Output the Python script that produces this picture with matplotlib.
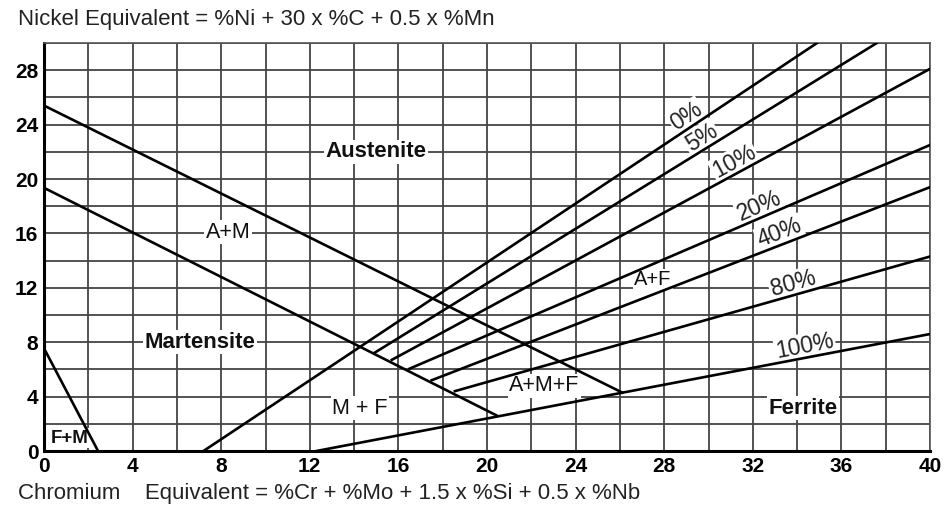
import numpy as np
import matplotlib
matplotlib.use("Agg")
import matplotlib.pyplot as plt

plt.rcParams['font.family'] = ['Liberation Sans', 'DejaVu Sans']

# boundary lines of the Schaeffler diagram, (Cr eq, Ni eq) end points
fm_line = ([0, 2.44], [7.55, 0])
am_upper = ([0, 26.1], [25.4, 4.3])
am_lower = ([0, 20.45], [19.35, 2.6])

# ferrite percentage lines
pct_names = ['0%', '5%', '10%', '20%', '40%', '80%', '100%']
pct_x0 = [7.2, 14.9, 15.7, 16.5, 17.5, 18.55, 12.3]
pct_y0 = [0, 7.2, 6.7, 6.05, 5.2, 4.4, 0]
pct_x1 = [34.9, 37.6, 40, 40, 40, 40, 40]
pct_y1 = [30, 30, 28.1, 22.5, 19.4, 14.3, 8.6]
# where the percentage label sits on its line (x position)
pct_label_x = [29.3, 29.95, 31.4, 32.5, 33.4, 33.95, 34.45]

# phase region labels
regions = ['Austenite', 'A+M', 'Martensite', 'M + F', 'A+M+F', 'A+F', 'Ferrite', 'F+M']
region_x = [15.0, 8.3, 7.04, 14.27, 22.6, 27.5, 34.25, 1.17]
region_y = [22.0, 16.1, 8.0, 3.16, 4.78, 12.6, 3.16, 0.95]
region_bold = [True, False, True, False, False, False, True, True]
region_size = [16, 15.5, 16, 15.5, 15.5, 14.5, 16, 13.5]

fig = plt.figure(figsize=(9.46, 5.11), dpi=100)
ax = fig.add_axes([44 / 946, 60 / 511, 886 / 946, 408 / 511])

ax.set_xlim(0, 40)
ax.set_ylim(0, 30)
ax.set_xticks(np.arange(0, 41, 2), minor=True)
ax.set_yticks(np.arange(0, 31, 2), minor=True)
ax.set_xticks(np.arange(0, 41, 4))
ax.set_yticks(np.arange(0, 29, 4))
ax.grid(True, which='both', color='#444444', linewidth=1.3, zorder=0)
ax.set_axisbelow(True)
ax.tick_params(which='both', length=0, pad=4, labelsize=15)
for lab in ax.get_xticklabels() + ax.get_yticklabels():
    lab.set_fontweight('bold')

for side in ['left', 'bottom']:
    ax.spines[side].set_linewidth(2.2)
for side in ['top', 'right']:
    ax.spines[side].set_linewidth(1.2)
    ax.spines[side].set_color('#555555')

lw = 1.9
ax.plot(*fm_line, color='black', lw=lw, zorder=4)
ax.plot(*am_upper, color='black', lw=lw, zorder=4)
ax.plot(*am_lower, color='black', lw=lw, zorder=4)

box = dict(facecolor='white', edgecolor='none', pad=1.0)
for name, x0, y0, x1, y1, lx in zip(pct_names, pct_x0, pct_y0, pct_x1, pct_y1, pct_label_x):
    ax.plot([x0, x1], [y0, y1], color='black', lw=lw, zorder=4)
    slope = (y1 - y0) / (x1 - x0)
    ly = y0 + slope * (lx - x0)
    ax.text(lx, ly, name, rotation=np.degrees(np.arctan(slope)),
            transform_rotates_text=True, rotation_mode='anchor',
            ha='center', va='bottom', fontsize=16.5, color='#222222',
            bbox=box, zorder=3)

for name, x, y, b, s in zip(regions, region_x, region_y, region_bold, region_size):
    ax.text(x, y, name, ha='center', va='center', fontsize=s,
            fontweight='bold' if b else 'normal', color='#111111',
            bbox=box, zorder=3)

fig.text(18 / 946, 1 - 19 / 511, 'Nickel Equivalent = %Ni + 30 x %C + 0.5 x %Mn',
         ha='left', va='center', fontsize=16, color='#222222')
fig.text(18 / 946, 1 - 493 / 511,
         'Chromium    Equivalent = %Cr + %Mo + 1.5 x %Si + 0.5 x %Nb',
         ha='left', va='center', fontsize=16, color='#222222')

fig.savefig('out.png', dpi=100)
